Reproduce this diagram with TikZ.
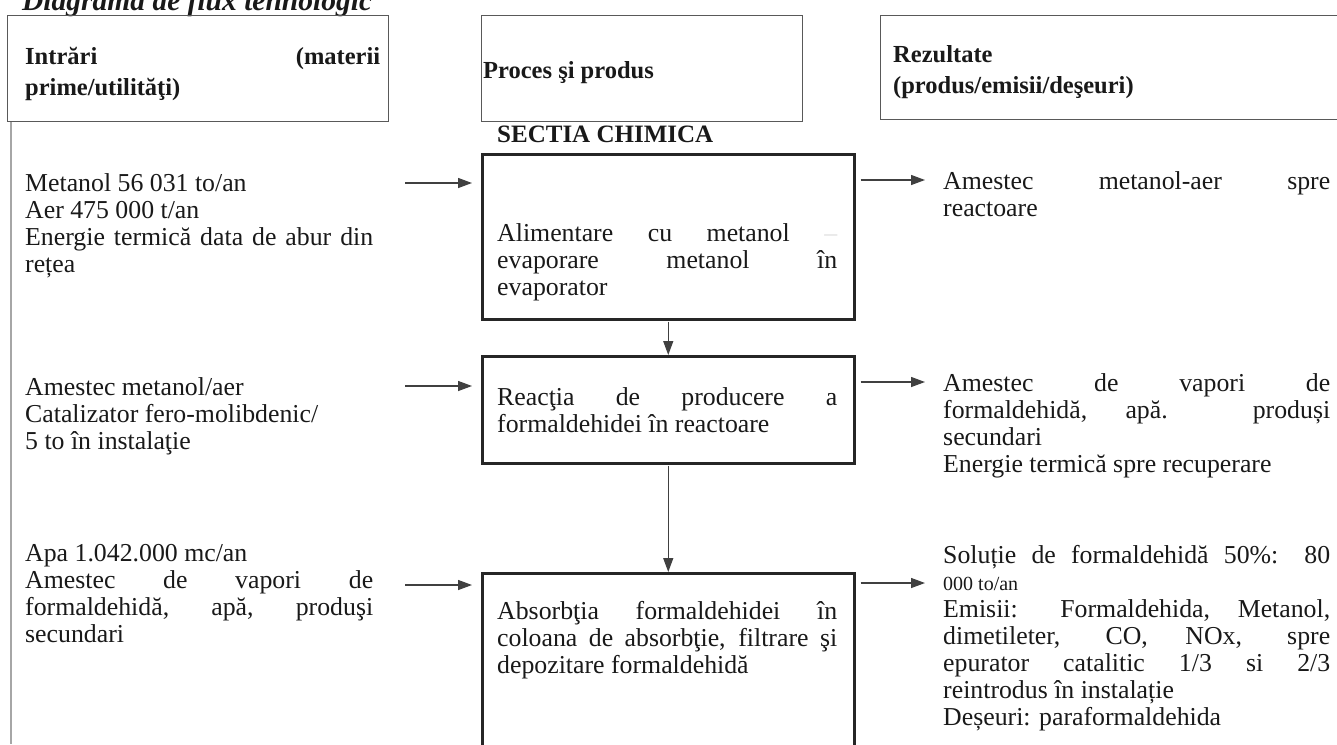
\documentclass[tikz,border=0pt]{standalone}
\usepackage{fontspec}
\setmainfont{Liberation Serif}
\usetikzlibrary{arrows.meta}
\newcommand\blk[1]{\vtop{\baselineskip=27pt\lineskiplimit=-\maxdimen\lineskip=0pt\relax#1}}
\newcommand\hblk[1]{\vtop{\baselineskip=31pt\lineskiplimit=-\maxdimen\lineskip=0pt\relax#1}}
\newcommand\jl[2]{\hbox to #1pt{#2}}
\newcommand\nl[1]{\hbox{#1}}
\begin{document}
\begin{tikzpicture}[x=1pt,y=-1pt,
  hdrbox/.style={draw=black!65, line width=0.9pt},
  procbox/.style={draw=black!85, line width=2.5pt},
  flow/.style={draw=black!75, line width=1.3pt, -{Triangle[length=14pt,width=10pt]}},
  txt/.style={anchor=base west, inner sep=0pt, text=black!90, font=\fontsize{25.8}{27}\selectfont},
  hdr/.style={txt, font=\fontsize{24.5}{30}\selectfont\bfseries},
]
\useasboundingbox (0,0) rectangle (1337,744);
\fill[white] (0,0) rectangle (1337,744);
\draw[black!35, line width=1.5pt] (11,121) -- (11,744);

% title (cut off at the top edge, as in the reference)
\node[txt, font=\fontsize{29.5}{30}\selectfont\bfseries\itshape] (title) at (22,10) {Diagrama de flux tehnologic};

% header boxes
\draw[hdrbox] (7,15) rectangle (388,121);
\draw[hdrbox] (481,15) rectangle (802,121);
\draw[hdrbox] (880,15) rectangle (1345,119);
\node[hdr] (h1) at (25,64) {\hblk{\jl{355}{Intrări (materii}\nl{prime/utilităţi)}}};
\node[hdr] (h2) at (483,78) {Proces şi produs};
\node[hdr] (h3) at (893,62) {\hblk{\nl{Rezultate}\nl{(produs/emisii/deşeuri)}}};

\node[hdr, font=\fontsize{25}{30}\selectfont\bfseries] (sec) at (497,142) {SECTIA CHIMICA};

% process boxes
\node[procbox, anchor=north west, minimum width=372pt, minimum height=165pt, inner sep=0pt] (b1) at (481,153) {};
\node[procbox, anchor=north west, minimum width=372pt, minimum height=107pt, inner sep=0pt] (b2) at (481,355) {};
\node[procbox, anchor=north west, minimum width=372pt, minimum height=180pt, inner sep=0pt] (b3) at (481,572) {};

\node[txt] (t1) at (497,241) {\blk{\jl{340}{Alimentare cu metanol \textcolor{black!12}{–}}\jl{340}{evaporare metanol în}\nl{evaporator}}};
\node[txt] (t2) at (497,405) {\blk{\jl{340}{Reacţia de producere a}\nl{formaldehidei în reactoare}}};
\node[txt] (t3) at (497,619) {\blk{\jl{340}{Absorbţia formaldehidei în}\jl{340}{coloana de absorbţie, filtrare şi}\nl{depozitare formaldehidă}}};

% left inputs
\node[txt] (l1) at (25,191) {\blk{\nl{Metanol 56 031 to/an}\nl{Aer 475 000 t/an}\jl{348}{Energie termică data de abur din}\nl{rețea}}};
\node[txt] (l2) at (25,395) {\blk{\nl{Amestec metanol/aer}\nl{Catalizator fero-molibdenic/}\nl{5 to în instalaţie}}};
\node[txt] (l3) at (25,561) {\blk{\nl{Apa 1.042.000 mc/an}\jl{348}{Amestec de vapori de}\jl{348}{formaldehidă, apă, produşi}\nl{secundari}}};

% right outputs
\node[txt] (r1) at (943,189) {\blk{\jl{387}{Amestec metanol-aer spre}\nl{reactoare}}};
\node[txt] (r2) at (943,391) {\blk{\jl{387}{Amestec de vapori de}\jl{387}{formaldehidă, apă. produși}\nl{secundari}\nl{Energie termică spre recuperare}}};
\node[txt] (r3) at (943,563) {\blk{\jl{387}{Soluție de formaldehidă 50\%: 80}\nl{\fontsize{20}{27}\selectfont 000 to/an}\jl{387}{Emisii: Formaldehida, Metanol,}\jl{387}{dimetileter, CO, NOx, spre}\jl{387}{epurator catalitic 1/3 si 2/3}\nl{reintrodus în instalație}\nl{Deșeuri: paraformaldehida}}};

% connectors
\coordinate (la1) at (405,183);
\coordinate (la2) at (405,386);
\coordinate (la3) at (405,585);
\coordinate (ra1) at (925,180);
\coordinate (ra2) at (925,382);
\coordinate (ra3) at (925,583);
\draw[flow, shorten >=9pt] (la1) -- (la1 -| b1.west);
\draw[flow, shorten >=9pt] (la2) -- (la2 -| b2.west);
\draw[flow, shorten >=9pt] (la3) -- (la3 -| b3.west);
\draw[flow, shorten <=5pt] (ra1 -| b1.east) -- (ra1);
\draw[flow, shorten <=5pt] (ra2 -| b2.east) -- (ra2);
\draw[flow, shorten <=5pt] (ra3 -| b3.east) -- (ra3);
\draw[flow, shorten <=1pt] (b1.south) -- (b1.south |- b2.north);
\draw[flow, shorten <=1pt] (b2.south) -- (b2.south |- b3.north);
\end{tikzpicture}
\end{document}
